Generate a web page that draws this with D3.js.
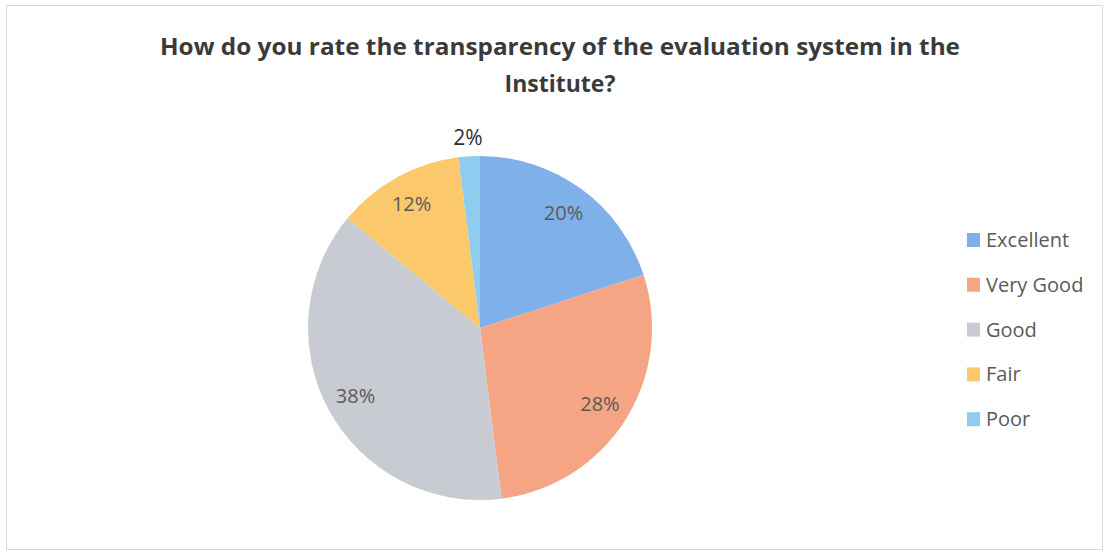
<!DOCTYPE html>
<html><head><meta charset="utf-8">
<script src="https://cdn.jsdelivr.net/npm/d3@7"></script>
<style>body{margin:0;background:#fff;}</style>
</head><body>
<svg id="c" width="1108" height="556"></svg>
<script>
const categories = ["Excellent", "Very Good", "Good", "Fair", "Poor"];
const values = [20, 28, 38, 12, 2];
const labels = ["20%", "28%", "38%", "12%", "2%"];
const colors = ["#7fb0ea", "#f5a583", "#c9cbd2", "#fcc86c", "#8ecdf0"];
const titleLines = ["How do you rate the transparency of the evaluation system in the", "Institute?"];

const svg = d3.select("#c");
svg.append("rect").attr("x", 6.5).attr("y", 5.5).attr("width", 1096).attr("height", 544)
  .attr("fill", "#fff").attr("stroke", "#d9d9d9");

const tLens = [800, null];
svg.append("g").selectAll("text").data(titleLines).join("text")
  .attr("x", 560).attr("y", (d, i) => 55 + i * 37)
  .attr("text-anchor", "middle")
  .attr("font-family", "'Open Sans', sans-serif").attr("font-weight", "bold")
  .attr("font-size", 23).attr("fill", "#3a3a3a")
  .each(function (d, i) { if (tLens[i]) d3.select(this).attr("textLength", tLens[i]).attr("lengthAdjust", "spacingAndGlyphs"); })
  .text(d => d);

const cx = 480, cy = 328, R = 172;
const pie = d3.pie().sort(null).value(d => d)(values);
const arc = d3.arc().innerRadius(0).outerRadius(R);
const labelArc = d3.arc().innerRadius(142).outerRadius(142);
const outArc = d3.arc().innerRadius(191).outerRadius(191);
const g = svg.append("g").attr("transform", `translate(${cx},${cy})`);
g.selectAll("path").data(pie).join("path")
  .attr("d", arc).attr("fill", (d, i) => colors[i]);
g.selectAll("text").data(pie).join("text")
  .attr("transform", (d, i) => `translate(${(values[i] < 5 ? outArc : labelArc).centroid(d)})`)
  .attr("text-anchor", "middle").attr("dy", "0.35em")
  .attr("font-family", "'Open Sans', sans-serif")
  .attr("font-size", (d, i) => values[i] < 5 ? 21 : 20)
  .attr("fill", (d, i) => values[i] < 5 ? "#2e2e2e" : "#5a5a5a")
  .text((d, i) => labels[i]);

const lg = svg.append("g").attr("transform", "translate(967,240)");
const items = lg.selectAll("g").data(categories).join("g")
  .attr("transform", (d, i) => `translate(0,${i * 44.8})`);
items.append("rect").attr("x", 0).attr("y", -7).attr("width", 13).attr("height", 14)
  .attr("fill", (d, i) => colors[i]);
items.append("text").attr("x", 19).attr("dy", "0.35em")
  .attr("font-family", "'Open Sans', sans-serif").attr("font-size", 20).attr("fill", "#5a5a5a")
  .text(d => d);
</script>
</body></html>
